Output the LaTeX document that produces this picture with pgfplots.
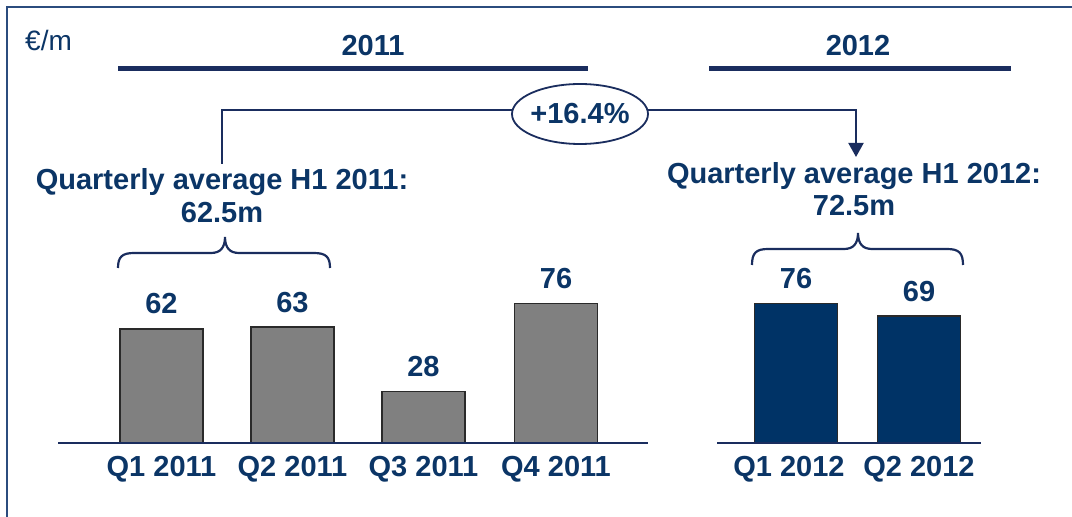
\documentclass[border=0pt]{standalone}
\usepackage{fontspec}
\setmainfont{Liberation Sans}
\usepackage{pgfplots}
\pgfplotsset{compat=1.18}
\usetikzlibrary{arrows.meta}
\definecolor{txtnavy}{HTML}{0B3566}
\definecolor{linenavy}{HTML}{1A2D5E}
\definecolor{framenavy}{HTML}{2B4C7E}
\definecolor{bargray}{HTML}{808080}
\definecolor{baredge}{HTML}{2A2A2A}
\definecolor{barnavy}{HTML}{003366}
\newcommand{\bigbf}{\bfseries\fontsize{29}{33}\selectfont}
\begin{document}
\begin{tikzpicture}
\begin{axis}[
  at={(0,0)}, anchor=south west,
  scale only axis, width=1072pt, height=517pt,
  xmin=0, xmax=1072, ymin=-40.217, ymax=240.761,
  axis x line=middle, axis y line=none,
  x axis line style={draw=none},
  ytick=\empty,
  xtick={161.5,292.5,423.5,556,789,919},
  xticklabels={Q1 2011,Q2 2011,Q3 2011,Q4 2011,Q1 2012,Q2 2012},
  major tick length=0pt,
  xticklabel style={font=\bigbf, text=txtnavy, anchor=base, inner sep=0pt, yshift=-34pt},
  ybar=0pt, bar shift=0pt, bar width=83,
  clip=false,
  nodes near coords,
  /pgf/number format/assume math mode=true,
]
\addplot[fill=bargray, draw=baredge, line width=1.2pt,
  every node near coord/.append style={font=\bigbf, text=txtnavy, anchor=base, inner sep=0pt, yshift=15pt}]
  coordinates {(161.5,62) (292.5,63) (423.5,28) (556,76)};
\addplot[fill=barnavy, draw=baredge, line width=1.2pt,
  every node near coord/.append style={font=\bigbf, text=txtnavy, anchor=base, inner sep=0pt, yshift=15pt}]
  coordinates {(796,76) (919,69)};
\draw[linenavy, line width=2.5pt] (axis cs:58,0) -- (axis cs:648,0);
\draw[linenavy, line width=2.5pt] (axis cs:717,0) -- (axis cs:981,0);
\end{axis}
\begin{scope}[x=1pt, y=-1pt, yshift=517pt]
\draw[framenavy, line width=1.5pt] (7,560) -- (7,7) -- (1100,7);
\node[anchor=base west, inner sep=0pt, text=txtnavy, font=\fontsize{28}{32}\selectfont] at (25,51) {€/m};
\node[anchor=base, inner sep=0pt, text=txtnavy, font=\bigbf] at (373,56) {2011};
\node[anchor=base, inner sep=0pt, text=txtnavy, font=\bigbf] at (858,56) {2012};
\draw[linenavy, line width=5pt] (118,69) -- (588,69);
\draw[linenavy, line width=5pt] (709,69) -- (1011,69);
\draw[linenavy, line width=2pt, -{Triangle[width=15pt,length=14pt]}] (222,164) -- (222,110) -- (856,110) -- (856,157);
\draw[linenavy, line width=1.8pt, fill=white] (580,114) ellipse [x radius=68, y radius=30];
\node[anchor=base, inner sep=0pt, text=txtnavy, font=\bigbf] at (580,124) {+16.4\%};
\node[anchor=base, inner sep=0pt, text=txtnavy, font=\bigbf] at (222,190) {Quarterly average H1 2011:};
\node[anchor=base, inner sep=0pt, text=txtnavy, font=\bigbf] at (222,223) {62.5m};
\node[anchor=base, inner sep=0pt, text=txtnavy, font=\bigbf] at (854,184) {Quarterly average H1 2012:};
\node[anchor=base, inner sep=0pt, text=txtnavy, font=\bigbf] at (854,216) {72.5m};
\draw[linenavy, line width=2.2pt] (118,268) .. controls (118,257) and (122,253) .. (134,253) -- (211,253) .. controls (220,253) and (225,248) .. (225,237) .. controls (225,248) and (230,253) .. (239,253) -- (314,253) .. controls (326,253) and (330,257) .. (330,268);
\draw[linenavy, line width=2.2pt] (752,265) .. controls (752,253) and (756,249) .. (768,249) -- (844,249) .. controls (853,249) and (858,244) .. (858,233) .. controls (858,244) and (863,249) .. (872,249) -- (947,249) .. controls (959,249) and (963,253) .. (963,265);
\end{scope}
\pgfresetboundingbox
\path[use as bounding box] (0,0) rectangle (1072pt,517pt);
\end{tikzpicture}
\end{document}
